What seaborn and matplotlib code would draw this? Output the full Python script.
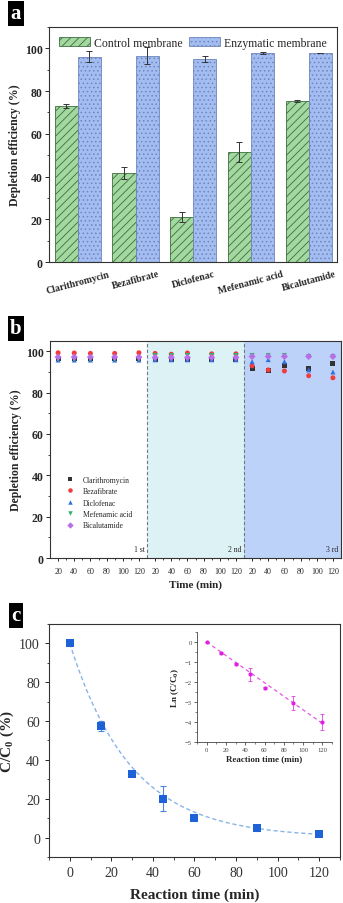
import numpy as np
import pandas as pd
import matplotlib
matplotlib.use('Agg')
import matplotlib.pyplot as plt
import seaborn as sns
from matplotlib.ticker import MultipleLocator, FixedLocator

sns.set_theme(style='ticks')
plt.rcParams['font.family'] = ['Liberation Serif', 'DejaVu Serif']
plt.rcParams['mathtext.fontset'] = 'custom'
plt.rcParams['mathtext.rm'] = 'Liberation Serif'
plt.rcParams['mathtext.bf'] = 'Liberation Serif:bold'
plt.rcParams['hatch.linewidth'] = 0.6

# ---------------- data: panel a ----------------
compounds = ['Clarithromycin', 'Bezafibrate', 'Diclofenac', 'Mefenamic acid', 'Bicalutamide']
membranes = ['Control membrane', 'Enzymatic membrane']
control_mean = [73.0, 41.5, 21.0, 51.7, 75.2]
control_err = [1.0, 2.8, 2.3, 4.7, 0.5]
enzymatic_mean = [96.1, 96.5, 95.1, 97.9, 97.9]
enzymatic_err = [2.7, 4.0, 1.5, 0.5, 0.0]

# ---------------- data: panel b ----------------
run_labels = ['1 st', '2 nd', '3 rd']
times_b = [20, 40, 60, 90, 120]
clarithromycin_b = [96.5, 96.5, 96.5, 96.5, 96.5, 96.0, 96.0, 96.0, 96.0, 96.0, 91.5, 90.7, 93.0, 91.5, 94.0]
bezafibrate_b = [99.3, 99.2, 99.0, 99.0, 99.3, 99.0, 98.6, 99.2, 98.8, 98.8, 93.0, 91.0, 90.5, 88.2, 87.2]
diclofenac_b = [95.8, 95.8, 95.8, 95.8, 95.8, 95.9, 95.9, 95.9, 95.9, 95.9, 95.0, 96.0, 95.0, 91.0, 90.0]
mefenamic_b = [96.1, 96.1, 96.1, 96.1, 96.1, 98.0, 98.0, 98.0, 98.0, 98.0, 98.0, 98.0, 98.0, 97.5, 97.5]
bicalutamide_b = [97.2, 97.2, 97.2, 97.2, 97.2, 97.0, 97.0, 97.0, 97.0, 97.0, 97.5, 97.5, 97.5, 97.5, 97.5]

# ---------------- data: panel c ----------------
t_c = [0, 15, 30, 45, 60, 90, 120]
cc0 = [100.0, 57.5, 32.5, 20.0, 10.0, 5.0, 2.0]
cc0_err = [0.5, 2.5, 1.0, 6.4, 0.8, 1.5, 0.5]
ln_cc0 = [0.0, -0.55, -1.12, -1.62, -2.30, -3.05, -4.0]
ln_err = [0.02, 0.05, 0.05, 0.33, 0.05, 0.35, 0.38]

green = '#a3d8a0'
blue = '#a3bdf2'

fig = plt.figure(figsize=(3.43, 9.04), dpi=100)

def panel_label(yc, s):
    fig.text(16 / 343, 1 - yc / 904, s, color='white', fontsize=15, fontweight='bold',
             ha='center', va='center',
             bbox=dict(boxstyle='square,pad=0.12', fc='black', ec='none'))

# =============== panel a ===============
axa = fig.add_axes([49 / 343, 1 - 263 / 904, 288 / 343, 235 / 904])
df_a = pd.DataFrame({
    'compound': compounds * 2,
    'membrane': [membranes[0]] * len(compounds) + [membranes[1]] * len(compounds),
    'value': control_mean + enzymatic_mean,
    'err': control_err + enzymatic_err,
})
sns.barplot(data=df_a, x='compound', y='value', hue='membrane', palette=[green, blue],
            errorbar=None, width=0.8, ax=axa, legend=False, linewidth=0.6,
            edgecolor='#4a5a6a', saturation=1)
hatches = ['////', '....']
hatch_cols = ['#3d6e3d', '#6f86b8']
for cont, h, hc in zip(axa.containers, hatches, hatch_cols):
    for p in cont.patches:
        p.set_hatch(h)
        p.set_edgecolor(hc)
for cont, errs in zip(axa.containers, [control_err, enzymatic_err]):
    xs = [p.get_x() + p.get_width() / 2 for p in cont.patches]
    ys = [p.get_height() for p in cont.patches]
    axa.errorbar(xs, ys, yerr=errs, fmt='none', ecolor='#333333', elinewidth=0.7,
                 capsize=2.0, capthick=0.7)
axa.legend(handles=list(axa.containers), labels=membranes, loc='upper left', ncol=2,
           frameon=False, fontsize=8.5, handlelength=2.6, handleheight=0.8,
           columnspacing=0.5, handletextpad=0.4, borderaxespad=0.45,
           bbox_to_anchor=(0.0, 1.0))
axa.set_ylim(0, 110)
axa.set_xlim(-0.5, 4.49)
axa.yaxis.set_major_locator(FixedLocator([0, 20, 40, 60, 80, 100]))
axa.yaxis.set_minor_locator(MultipleLocator(10))
axa.set_xlabel('')
axa.set_ylabel('Depletion efficiency (%)', fontsize=8.5, fontweight='bold', labelpad=3)
axa.tick_params(axis='y', which='major', labelsize=8.5, length=3, width=0.7, direction='out', pad=1.5)
axa.tick_params(axis='y', which='minor', length=1.8, width=0.6, direction='out')
axa.tick_params(axis='x', length=0, labelsize=7, pad=5)
for lab in axa.get_yticklabels():
    lab.set_fontweight('bold')
for lab in axa.get_xticklabels():
    lab.set_fontweight('bold')
    lab.set_rotation(15)
    lab.set_ha('center')
for s in axa.spines.values():
    s.set_linewidth(0.8)
    s.set_color('#333333')
panel_label(14, 'a')

# =============== panel b ===============
axb = fig.add_axes([50 / 343, 1 - 559 / 904, 291 / 343, 217 / 904])
names_b = ['Clarithromycin', 'Bezafibrate', 'Diclofenac', 'Mefenamic acid', 'Bicalutamide']
series_b = [clarithromycin_b, bezafibrate_b, diclofenac_b, mefenamic_b, bicalutamide_b]
rows = []
for name, vals in zip(names_b, series_b):
    k = 0
    for r in range(len(run_labels)):
        for t in times_b:
            rows.append({'compound': name, 'run': r, 'time': t, 'xpos': t + 120 * r, 'value': vals[k]})
            k += 1
df_b = pd.DataFrame(rows)
axb.axvspan(130, 250, color='#ddf2f4', zorder=0, lw=0)
axb.axvspan(250, 370, color='#bdd2f8', zorder=0, lw=0)
for xv in [130, 250]:
    axb.axvline(xv, color='#707880', ls=(0, (3, 2)), lw=0.8, zorder=1)
pal_b = ['#333333', '#f03c3c', '#2f6fe0', '#2fb36b', '#b86ee8']
mk_b = ['s', 'o', '^', 'v', 'D']
sns.scatterplot(data=df_b, x='xpos', y='value', hue='compound', style='compound',
                palette=pal_b, markers=mk_b, s=13, linewidth=0, ax=axb, zorder=3)
handles, labels = axb.get_legend_handles_labels()
axb.legend(handles=handles, labels=labels, loc='lower left', bbox_to_anchor=(0.02, 0.1),
           frameon=False, fontsize=5.5, handletextpad=0.6, labelspacing=0.45,
           markerscale=0.9)
for r, lab in enumerate(run_labels):
    axb.text(120 * r + 127, 2.5, lab, fontsize=5.5, ha='right', va='bottom')
axb.set_xlim(10, 370)
axb.set_ylim(0, 105)
major_b = [t + 120 * r for r in range(3) for t in [20, 40, 60, 80, 100, 120]]
minor_b = [t + 120 * r for r in range(3) for t in [30, 50, 70, 90, 110]]
axb.xaxis.set_major_locator(FixedLocator(major_b))
axb.xaxis.set_minor_locator(FixedLocator(minor_b))
axb.set_xticklabels([str(t) for r in range(3) for t in [20, 40, 60, 80, 100, 120]])
axb.yaxis.set_major_locator(FixedLocator([0, 20, 40, 60, 80, 100]))
axb.yaxis.set_minor_locator(MultipleLocator(10))
axb.set_xlabel('Time (min)', fontsize=8, fontweight='bold', labelpad=3)
axb.set_ylabel('Depletion efficiency (%)', fontsize=8.5, fontweight='bold', labelpad=3)
axb.tick_params(axis='y', which='major', labelsize=8.5, length=3, width=0.7, direction='out', pad=1.5)
axb.tick_params(axis='y', which='minor', length=1.8, width=0.6, direction='out')
axb.tick_params(axis='x', which='major', labelsize=5.8, length=2.5, width=0.7, direction='out', pad=4)
axb.tick_params(axis='x', which='minor', length=1.6, width=0.6, direction='out')
for lab in axb.get_yticklabels():
    lab.set_fontweight('bold')
for s in axb.spines.values():
    s.set_linewidth(0.8)
    s.set_color('#333333')
panel_label(329, 'b')

# =============== panel c ===============
axc = fig.add_axes([49 / 343, 1 - 858 / 904, 291 / 343, 233 / 904])
df_c = pd.DataFrame({'t': t_c, 'c': cc0, 'err': cc0_err, 'ln': ln_cc0, 'lnerr': ln_err})
# first-order fit of the data (ln(C/C0) = -k t, through the origin)
t_arr = np.array(t_c, float)
ln_arr = np.log(np.array(cc0) / 100.0)
k_fit = np.sum(t_arr * ln_arr) / np.sum(t_arr ** 2)
t_fit = np.linspace(0, 120, 200)
df_fit = pd.DataFrame({'t': t_fit, 'c': 100 * np.exp(k_fit * t_fit), 'ln': k_fit * t_fit})
sns.lineplot(data=df_fit, x='t', y='c', ax=axc, color='#88b4e8', lw=1.0,
             linestyle=(0, (3, 2)), zorder=2)
axc.errorbar(df_c['t'], df_c['c'], yerr=df_c['err'], fmt='none', ecolor='#4a86e0',
             elinewidth=0.8, capsize=2.5, capthick=0.8, zorder=3)
sns.scatterplot(data=df_c, x='t', y='c', ax=axc, marker='s', s=30, color='#1f62d8',
                linewidth=0, zorder=4)
axc.set_xlim(-10, 130)
axc.set_ylim(-10, 110)
axc.xaxis.set_major_locator(MultipleLocator(20))
axc.xaxis.set_minor_locator(MultipleLocator(10))
axc.yaxis.set_major_locator(FixedLocator([0, 20, 40, 60, 80, 100]))
axc.yaxis.set_minor_locator(MultipleLocator(10))
axc.set_xlabel('Reaction time (min)', fontsize=11, fontweight='bold', labelpad=6)
axc.set_ylabel('C/C$_\\mathbf{0}$ (%)', fontsize=11, fontweight='bold', labelpad=2)
axc.tick_params(axis='both', which='major', labelsize=10, length=3, width=0.7,
                direction='out', labelcolor='#333333')
axc.tick_params(axis='both', which='minor', length=1.8, width=0.6, direction='out')
for s in axc.spines.values():
    s.set_linewidth(0.8)
    s.set_color('#333333')

axi = fig.add_axes([197 / 343, 1 - 743 / 904, 135 / 343, 110 / 904])
axi.patch.set_alpha(0)
sns.lineplot(data=df_fit, x='t', y='ln', ax=axi, color='#e455e4', lw=0.9,
             linestyle=(0, (3, 2.5)), zorder=2)
axi.errorbar(df_c['t'], df_c['ln'], yerr=df_c['lnerr'], fmt='none', ecolor='#e040e0',
             elinewidth=0.6, capsize=1.5, capthick=0.6, zorder=3)
sns.scatterplot(data=df_c, x='t', y='ln', ax=axi, marker='o', s=9, color='#e020e0',
                linewidth=0, zorder=4)
axi.set_xlim(-10, 130)
axi.set_ylim(-5, 0.5)
axi.xaxis.set_major_locator(MultipleLocator(20))
axi.xaxis.set_minor_locator(MultipleLocator(10))
axi.yaxis.set_major_locator(MultipleLocator(1))
axi.yaxis.set_minor_locator(MultipleLocator(0.5))
axi.set_xlabel('Reaction time (min)', fontsize=6.5, fontweight='bold', labelpad=2)
axi.set_ylabel('Ln (C/C$_\\mathbf{0}$)', fontsize=6.5, fontweight='bold', labelpad=3)
axi.tick_params(axis='both', which='major', labelsize=4.8, length=2, width=0.5,
                direction='out', pad=1.5, labelcolor='#444444')
axi.tick_params(axis='both', which='minor', length=1.2, width=0.4, direction='out')
axi.spines['top'].set_visible(False)
axi.spines['right'].set_visible(False)
for s in ['left', 'bottom']:
    axi.spines[s].set_linewidth(0.6)
    axi.spines[s].set_color('#444444')
panel_label(616, 'c')

fig.savefig('out.png', dpi=100)
